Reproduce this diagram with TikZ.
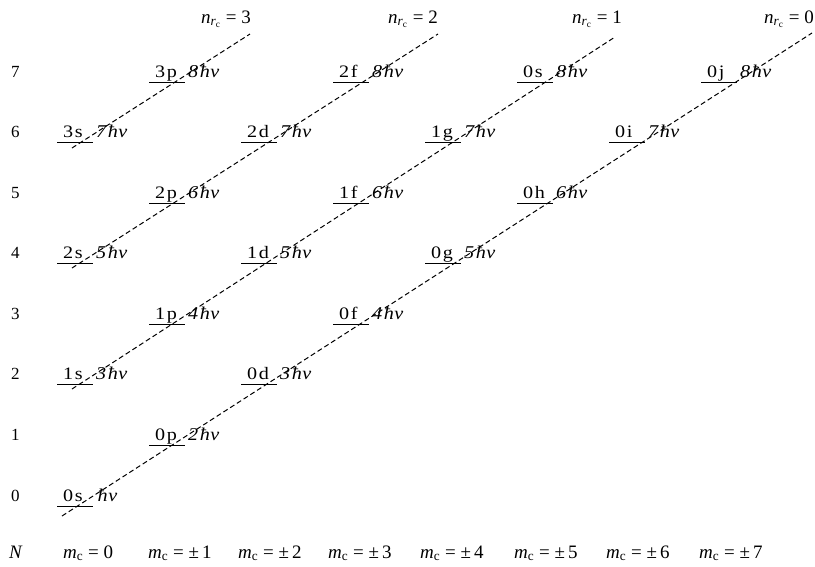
\documentclass[tikz,border=0pt]{standalone}
\usepackage{fontspec}
\setmainfont{Liberation Serif}
\newfontfamily\lvlfont[FakeStretch=1.15]{Liberation Serif}
\newfontfamily\enfont[FakeStretch=1.12]{Liberation Serif Italic}
\newcommand\myen[1]{{\fontsize{18}{20}\enfont #1\kern1.5pt ħ\kern0.5ptν}}
\newcommand\mymc{\textit{m}\textsubscript{c}}
\newcommand\mynr{\textit{n}\textsubscript{\textit{r}\textsubscript{c}}}
\begin{document}
\begin{tikzpicture}[x=1pt,y=-1pt,
  font=\fontsize{17}{20}\selectfont,
  lvl/.style={line width=0.8pt},
  dline/.style={line width=1pt, dash pattern=on 5pt off 3pt},
  lab/.style={anchor=base west, inner sep=0pt},
  lvllab/.style={anchor=base west, inner sep=0pt, font=\fontsize{17.5}{20}\lvlfont},
  axlab/.style={anchor=base west, inner sep=0pt, font=\fontsize{19}{22}\selectfont},
  toplab/.style={anchor=base east, inner sep=0pt, font=\fontsize{19}{22}\selectfont}]
\useasboundingbox (0,0) rectangle (815,566);
% row numbers
\foreach \N in {0,...,7} {
  \node[lab] (row\N) at (11,{501-60.57*\N}) {\N};
}
% levels
\foreach \N/\m/\a/\b in {0/0/0/s,1/1/0/p,2/0/1/s,2/2/0/d,3/1/1/p,3/3/0/f,
  4/0/2/s,4/2/1/d,4/4/0/g,5/1/2/p,5/3/1/f,5/5/0/h,6/0/3/s,6/2/2/d,6/4/1/g,
  6/6/0/i,7/1/3/p,7/3/2/f,7/5/0/s,7/7/0/j} {
  \pgfmathsetmacro\yy{501-60.57*\N}
  \pgfmathsetmacro\xx{57+92*\m}
  \pgfmathtruncatemacro\E{\N+1}
  \coordinate (la-\N-\m) at ({\xx},{\yy+5});
  \coordinate (lb-\N-\m) at ({\xx+36},{\yy+5});
  \draw[lvl] (la-\N-\m) -- (lb-\N-\m);
  \node[lvllab] (n-\N-\m) at ({\xx+6},{\yy}) {\a\kern1.5pt\b};
  \node[lab] (e-\N-\m) at ({\xx+39},{\yy}) {\ifnum\N=0 \myen{}\else\myen{\E}\fi};
}
% dashed lines
\coordinate (r0s) at (62,516);  \coordinate (r0e) at (812,33);
\coordinate (r1s) at (72,389);  \coordinate (r1e) at (615,37);
\coordinate (r2s) at (72,268);  \coordinate (r2e) at (438,34);
\coordinate (r3s) at (72,148);  \coordinate (r3e) at (250,34);
\draw[dline] (r0s) -- (r0e);
\draw[dline] (r1s) -- (r1e);
\draw[dline] (r2s) -- (r2e);
\draw[dline] (r3s) -- (r3e);
% top labels
\node[toplab] (t3) at (251,23) {\mynr{} = 3};
\node[toplab] (t2) at (438,23) {\mynr{} = 2};
\node[toplab] (t1) at (622,23) {\mynr{} = 1};
\node[toplab] (t0) at (814,23) {\mynr{} = 0};
% bottom labels
\node[axlab] (NN) at (9,558) {\textit{N}};
\node[axlab] (m0) at (63,558) {\mymc{} = 0};
\foreach \k/\x in {1/148,2/238,3/328,4/420,5/514,6/606,7/699} {
  \node[axlab] (m\k) at (\x,558) {\mymc{} = ±\,\k};
}
\end{tikzpicture}
\end{document}
